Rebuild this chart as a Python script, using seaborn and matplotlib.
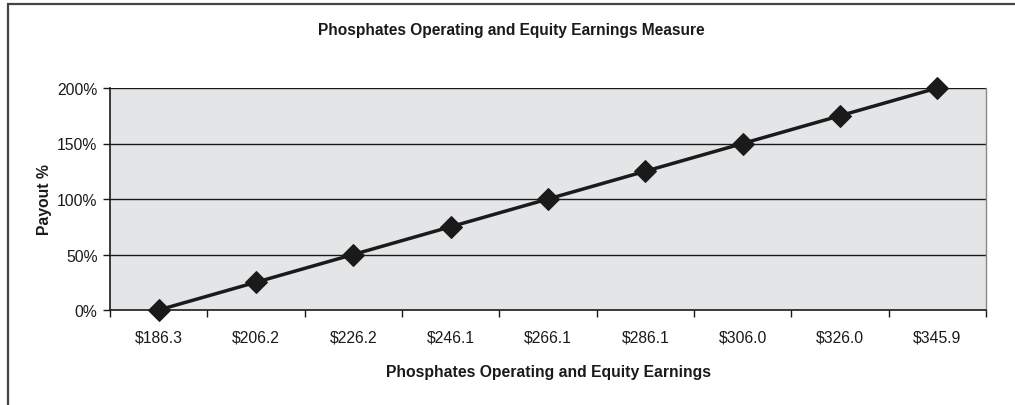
import matplotlib
matplotlib.use("Agg")
import matplotlib.pyplot as plt
import matplotlib.patches as mpatches
from matplotlib.ticker import FixedLocator, FuncFormatter
import seaborn as sns
import pandas as pd

earnings = ["$186.3", "$206.2", "$226.2", "$246.1", "$266.1", "$286.1", "$306.0", "$326.0", "$345.9"]
payout = [0, 25, 50, 75, 100, 125, 150, 175, 200]
yticks = [0, 50, 100, 150, 200]
title = "Phosphates Operating and Equity Earnings Measure"
xlabel = "Phosphates Operating and Equity Earnings"
ylabel = "Payout %"

sns.set_theme(style="white")
plt.rcParams['font.family'] = ['Liberation Sans', 'DejaVu Sans']

df = pd.DataFrame({"pos": range(len(earnings)), "payout": payout})

fig = plt.figure(figsize=(10.15, 4.06), dpi=100)
ax = fig.add_axes([110/1015, 1-311/406, 876/1015, 222/406])
ax.set_facecolor("#e4e5e7")

sns.lineplot(data=df, x="pos", y="payout", ax=ax, color="#1a1a1a", linewidth=2.5,
             marker="D", markersize=11.5, markeredgecolor="#1a1a1a", markerfacecolor="#1a1a1a",
             zorder=5, clip_on=False)

ax.set_xlim(-0.5, len(earnings) - 0.5)
ax.set_ylim(0, 200)
ax.xaxis.set_major_locator(FixedLocator(list(range(len(earnings)))))
ax.set_xticklabels(earnings)
ax.xaxis.set_minor_locator(FixedLocator([i - 0.5 for i in range(len(earnings) + 1)]))
ax.set_yticks(yticks)
ax.yaxis.set_major_formatter(FuncFormatter(lambda v, p: f"{int(v)}%"))
ax.tick_params(axis="x", which="major", length=0, labelsize=11.3, pad=14, colors="#1a1a1a")
ax.tick_params(axis="x", which="minor", length=5, width=1, color="#1a1a1a", direction="out", bottom=True)
ax.tick_params(axis="y", which="major", length=5, width=1, color="#1a1a1a", direction="out", labelsize=11.3, pad=4, left=True, labelcolor="#1a1a1a")

for y in yticks[1:]:
    ax.axhline(y, color="#1a1a1a", linewidth=1.0, zorder=1)

for s in ["left", "bottom"]:
    ax.spines[s].set_color("#1a1a1a")
    ax.spines[s].set_linewidth(1.2)
ax.spines["right"].set_color("#888888")
ax.spines["right"].set_linewidth(1.0)
ax.spines["top"].set_visible(False)

ax.set_xlabel(xlabel, fontsize=11.3, fontweight="bold", color="#1a1a1a", labelpad=14)
ax.set_ylabel(ylabel, fontsize=11.3, fontweight="bold", color="#1a1a1a", labelpad=4)
fig.text(511/1015, 1-30/406, title, ha="center", va="center", fontsize=11.2, fontweight="bold", color="#1a1a1a")

fig.patches.append(mpatches.Rectangle((8/1015, -0.2), 1.5, 1.2 - 5/406, transform=fig.transFigure,
                                      fill=False, edgecolor="#444444", linewidth=1.6))

fig.savefig("out.png", dpi=100)
